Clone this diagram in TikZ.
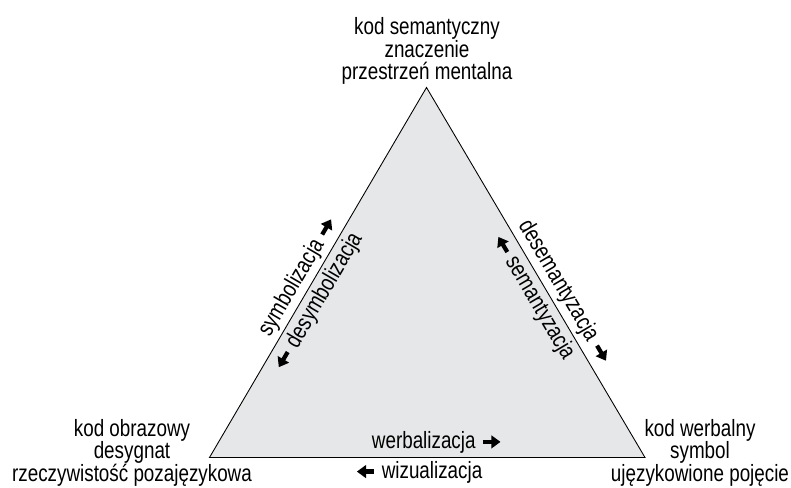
\documentclass[tikz,border=0pt]{standalone}
\usepackage{fontspec}
\setmainfont[FakeStretch=0.8]{Liberation Sans}
\usetikzlibrary{arrows.meta}
\definecolor{trojkat}{RGB}{230,231,232}
\newcommand{\strzalkaP}{\tikz[baseline=-0.55ex]\draw[line width=2.4pt, -{Triangle[length=5.2pt,width=7.2pt]}] (0,0) -- (10pt,0);}
\newcommand{\strzalkaL}{\tikz[baseline=-0.55ex]\draw[line width=2.4pt, {Triangle[length=5.2pt,width=7.2pt]}-] (0,0) -- (10pt,0);}
\tikzset{
  wierzcholek/.style={align=center, inner sep=0pt, anchor=south},
  etykieta/.style={sloped, inner sep=2pt}
}
\begin{document}
\begin{tikzpicture}[font=\fontsize{13.4}{12.8}\selectfont]

    \useasboundingbox (0,0) rectangle (15.82,9.76);

    \coordinate (lewy) at (4.19,0.61);
    \coordinate (prawy) at (12.90,0.61);
    \coordinate (szczyt) at (8.53,8.01);

    \filldraw [fill=trojkat, draw=black, line width=0.5pt]
      (lewy) -- (prawy) -- (szczyt) -- cycle;

    % wierzcholki
    \node [wierzcholek] (semantyczny) at (8.54,8.06)
      {kod semantyczny\\znaczenie\\przestrzeń mentalna};
    \node [wierzcholek] (obrazowy) at (2.64,0.03)
      {kod obrazowy\\desygnat\\rzeczywistość pozajęzykowa};
    \node [wierzcholek] (werbalny) at (14.0,0.03)
      {kod werbalny\\symbol\\ujęzykowione pojęcie};

    % boki trojkata
    \path (lewy) -- (szczyt)
      node [etykieta, above, pos=0.47] (symb) {symbolizacja \strzalkaP}
      node [etykieta, below, pos=0.44] (desymb) {\strzalkaL{} desymbolizacja};
    \path (szczyt) -- (prawy)
      node [etykieta, above, pos=0.575] (desem) {desemantyzacja \strzalkaP}
      node [etykieta, below, pos=0.545] (sem) {\strzalkaL{} semantyzacja};
    \path (lewy) -- (prawy)
      node [etykieta, above, pos=0.523] (werb) {werbalizacja \strzalkaP}
      node [etykieta, below, pos=0.48] (wiz) {\strzalkaL{} wizualizacja};

\end{tikzpicture}
\end{document}
